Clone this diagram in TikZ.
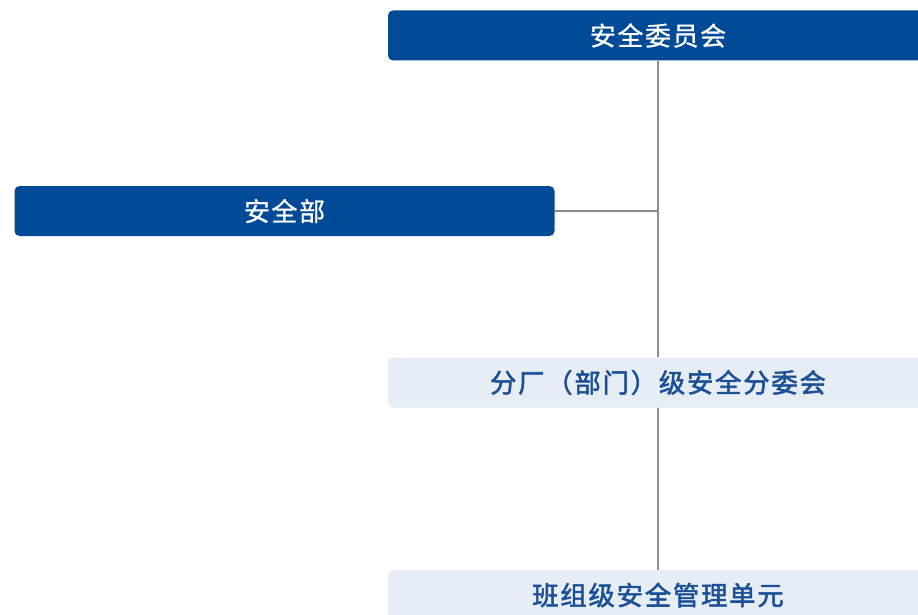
\documentclass[tikz,border=0pt]{standalone}
\usepackage{fontspec}
\newfontfamily\cjk[LetterSpace=6,FakeBold=0.8]{Noto Sans CJK SC}
\newfontfamily\cjkm[LetterSpace=7,FakeBold=2]{Noto Sans CJK SC}
\definecolor{darkblue}{HTML}{004A98}
\definecolor{lightbox}{HTML}{E6EDF5}
\definecolor{lighttext}{HTML}{1B4F96}
\definecolor{linegray}{HTML}{8C8C8C}
\begin{document}
\begin{tikzpicture}[x=1pt,y=1pt,
  darkbox/.style={fill=darkblue, rounded corners=5pt, minimum width=540pt, minimum height=50pt, inner sep=0pt, text=white, font=\cjk\fontsize{26pt}{30pt}\selectfont},
  lbox/.style={fill=lightbox, rounded corners=5pt, minimum width=540pt, minimum height=50pt, inner sep=0pt, text=lighttext, font=\cjkm\fontsize{26.3pt}{30pt}\selectfont},
  conn/.style={draw=linegray, line width=1.1pt}]
\useasboundingbox (0,0) rectangle (918,-615);
\clip (0,0) rectangle (918,-615);
\fill[white] (0,0) rectangle (918,-615);
\node[darkbox] (top) at (658,-35.5) {安全委员会};
\node[darkbox] (dept) at (284.5,-211) {安全部};
\node[lbox] (mid) at (658,-382.5) {分厂（部门）级安全分委会};
\node[lbox] (bot) at (658,-595) {班组级安全管理单元};
\coordinate (j) at (dept.east -| top.south);
\draw[conn] (top.south) -- (mid.north);
\draw[conn] (mid.south) -- (bot.north);
\draw[conn] (dept.east) -- (j);
\end{tikzpicture}
\end{document}
